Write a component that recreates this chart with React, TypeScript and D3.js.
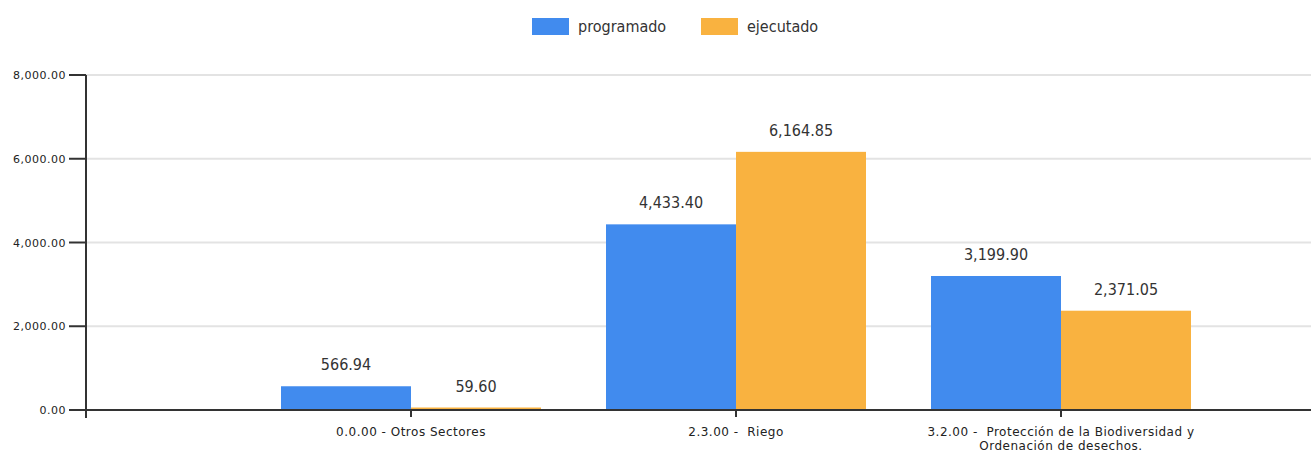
import React from "react";
import * as d3 from "d3";

const categories = [
  "0.0.00 - Otros Sectores",
  "2.3.00 -  Riego",
  "3.2.00 -  Protección de la Biodiversidad y Ordenación de desechos.",
];
const categoryLines = [
  ["0.0.00 - Otros Sectores"],
  ["2.3.00 -  Riego"],
  ["3.2.00 -  Protección de la Biodiversidad y", "Ordenación de desechos."],
];
const seriesNames = ["programado", "ejecutado"];
const programado = [566.94, 4433.4, 3199.9];
const ejecutado = [59.6, 6164.85, 2371.05];
const yTicks = [0, 2000, 4000, 6000, 8000];
const colors = ["#418bee", "#f9b240"];

const W = 1311;
const H = 453;

export default function App() {
  const x0 = 86;
  const step = 325;
  const x = d3
    .scalePoint<string>()
    .domain(["", ...categories])
    .range([x0, x0 + step * categories.length]);
  const xs = d3.scaleBand<string>().domain(seriesNames).range([-130, 130]);
  const y = d3.scaleLinear().domain([0, 8000]).range([410, 75]);
  const fmt = d3.format(",.2f");
  const series = [programado, ejecutado];
  const tickFont = "'DejaVu Sans', sans-serif";
  const labelFont = "'DejaVu Sans Condensed', 'DejaVu Sans', sans-serif";

  return (
    <svg width={W} height={H} style={{ position: "absolute", left: 0, top: 0, background: "#fff" }}>
      {yTicks.slice(1).map((t) => (
        <line key={"g" + t} x1={x0} x2={W} y1={y(t)} y2={y(t)} stroke="#e3e3e3" strokeWidth={2} />
      ))}
      {series.map((vals, si) =>
        categories.map((c, ci) => {
          const bx = (x(c) as number) + (xs(seriesNames[si]) as number);
          const top = y(vals[ci]);
          return (
            <g key={si + "-" + ci}>
              <rect x={bx} y={top} width={xs.bandwidth()} height={y(0) - top} fill={colors[si]} />
              <text
                x={bx + xs.bandwidth() / 2}
                y={top - 16}
                textAnchor="middle"
                fontFamily={labelFont}
                fontSize={16}
                fill="#333"
              >
                {fmt(vals[ci])}
              </text>
            </g>
          );
        })
      )}
      <line x1={x0} x2={x0} y1={y(8000)} y2={418} stroke="#333" strokeWidth={2} />
      {yTicks.map((t) => (
        <g key={"t" + t}>
          <line x1={69} x2={x0} y1={y(t)} y2={y(t)} stroke="#333" strokeWidth={2} />
          <text x={66} y={y(t) + 4} textAnchor="end" fontFamily={tickFont} fontSize={11} letterSpacing={0.5} fill="#222">
            {fmt(t)}
          </text>
        </g>
      ))}
      <line x1={x0} x2={W} y1={y(0)} y2={y(0)} stroke="#333" strokeWidth={2} />
      {categories.map((c, ci) => (
        <g key={"x" + ci}>
          <line x1={x(c) as number} x2={x(c) as number} y1={y(0)} y2={417} stroke="#333" strokeWidth={2} />
          {categoryLines[ci].map((ln, li) => (
            <text
              key={li}
              x={x(c) as number}
              y={436 + li * 14}
              textAnchor="middle"
              fontFamily={tickFont}
              fontSize={12}
              letterSpacing={0.5}
              fill="#222"
              style={{ whiteSpace: "pre" }}
            >
              {ln}
            </text>
          ))}
        </g>
      ))}
      {seriesNames.map((s, i) => {
        const lx = i === 0 ? 532 : 701;
        return (
          <g key={"l" + s}>
            <rect x={lx} y={18} width={37} height={17} fill={colors[i]} />
            <text x={lx + 46} y={32} fontFamily={labelFont} fontSize={16} fill="#333">
              {s}
            </text>
          </g>
        );
      })}
    </svg>
  );
}
